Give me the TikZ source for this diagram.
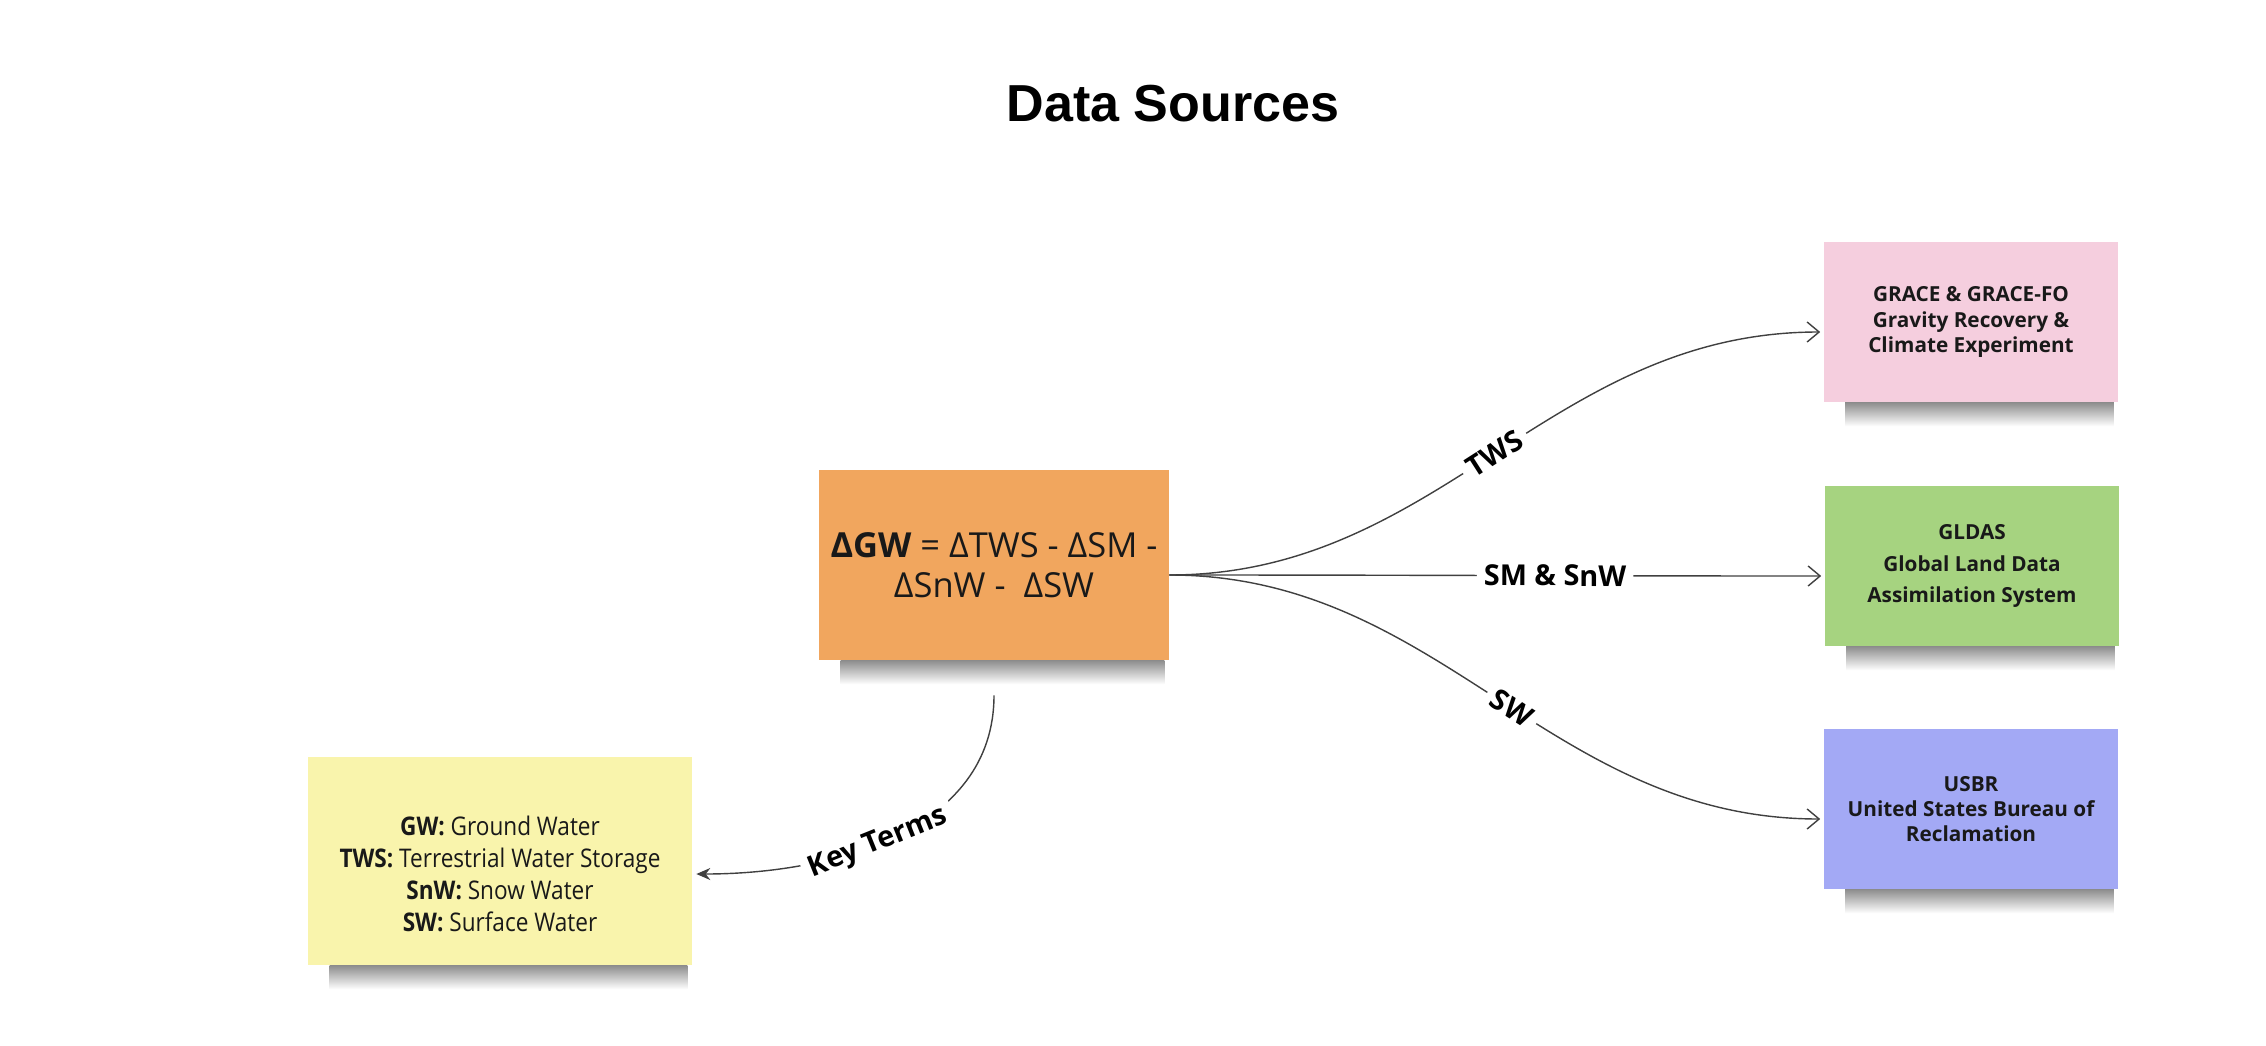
\documentclass[tikz,border=0pt]{standalone}
\usepackage{fontspec}
\setmainfont{Open Sans}
\newfontfamily\titlefont{Liberation Sans}
\newfontfamily\narrowfont[FakeStretch=0.88]{Open Sans}
\usetikzlibrary{arrows.meta}
\definecolor{eqorange}{RGB}{241,166,94}
\definecolor{keyyellow}{RGB}{249,244,172}
\definecolor{gracepink}{RGB}{245,206,222}
\definecolor{gldasgreen}{RGB}{166,211,128}
\definecolor{usbrblue}{RGB}{163,169,245}
\begin{document}
\begin{tikzpicture}
[x=0.01cm, y=-0.01cm,
 note/.style={inner sep=0pt, align=center, text=black!90},
 source/.style={note, minimum width=2.94cm, minimum height=1.59cm,
   font=\fontsize{5.9}{7.2}\selectfont\bfseries},
 link/.style={line width=0.4pt, draw=black!75, -{Straight Barb[length=1.2mm,width=2mm]}},
 tag/.style={fill=white, inner sep=2pt, sloped, font=\fontsize{8.2}{9}\selectfont\bfseries}]
\useasboundingbox (0,0) rectangle (2266,1046);
%% title
\node (title) at (1173,104) {\titlefont\fontsize{14.8}{16}\selectfont\bfseries Data Sources};
%% the notes
\node[note, fill=eqorange, minimum width=3.49cm, minimum height=1.89cm,
  font=\fontsize{9.8}{11.2}\selectfont] (eq) at (994,565)
  {\textbf{ΔGW} = ΔTWS - ΔSM -\\ ΔSnW -\ \ ΔSW};
\node[note, fill=keyyellow, minimum width=3.83cm, minimum height=2.07cm,
  font=\narrowfont\fontsize{7.3}{9.1}\selectfont] (terms) at (500,861)
  {\rule{0pt}{4.6mm}\textbf{GW:} Ground Water\\ \textbf{TWS:} Terrestrial Water Storage\\
   \textbf{SnW:} Snow Water\\ \textbf{SW:} Surface Water};
\node[source, fill=gracepink] (grace) at (1971,322)
  {GRACE \& GRACE-FO\\ Gravity Recovery \&\\ Climate Experiment};
\node[source, fill=gldasgreen, font=\fontsize{5.9}{9}\selectfont\bfseries] (gldas) at (1972,566)
  {GLDAS\\ Global Land Data\\ Assimilation System};
\node[source, fill=usbrblue] (usbr) at (1971,809)
  {USBR\\ United States Bureau of\\ Reclamation};
%% soft shadows under the notes
\foreach \n in {eq, terms, grace, gldas, usbr}
  \shade[top color=black!45, bottom color=white]
    ([xshift=2.2mm]\n.south west) rectangle ([xshift=-0.5mm,yshift=-2.4mm]\n.south east);
%% the connectors
\coordinate (hub) at ([yshift=-1mm]eq.east);
\coordinate (kt) at ([yshift=-3.5mm]eq.south);
\foreach \src/\lab/\p in {grace/TWS/0.5, gldas/SM \& SnW/0.6, usbr/SW/0.53}
  \draw[link] (hub) to[out=0,in=180] node[tag, pos=\p] {\lab} ([xshift=-0.3mm,yshift=-1mm]\src.west);
\draw[link, -{Stealth[length=1.4mm,width=1.2mm]}] (kt) to[out=-90,in=0]
  node[tag, pos=0.55] {Key Terms} ([xshift=0.4mm,yshift=-1.3mm]terms.east);
\end{tikzpicture}
\end{document}
